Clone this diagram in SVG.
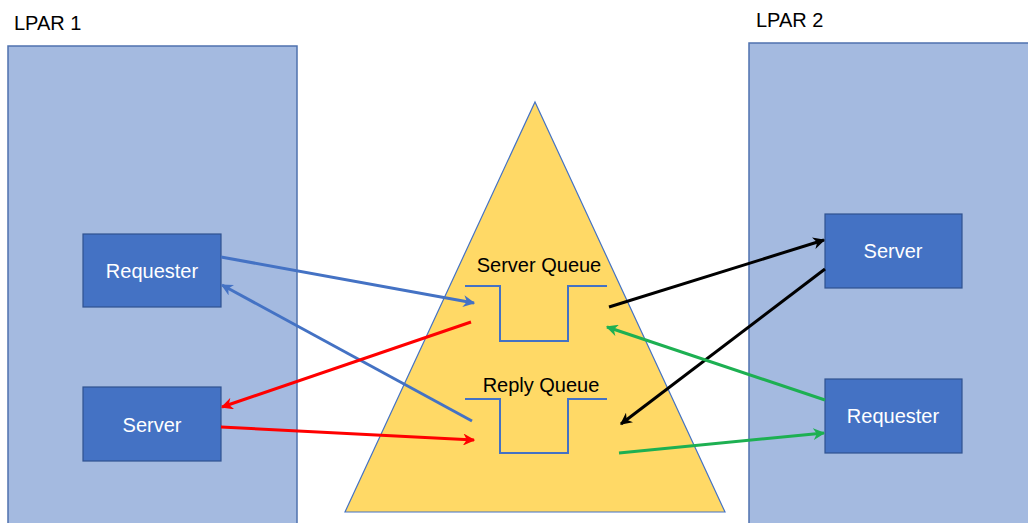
<svg xmlns="http://www.w3.org/2000/svg" width="1028" height="523" viewBox="0 0 1028 523">
<defs>
<style>
.lpar{fill:#A4BAE0;stroke:#4F72AE;stroke-width:1.5}
.box{fill:#4472C4;stroke:#2F528F;stroke-width:1.2}
.wt{font-family:"Liberation Sans",Arial,sans-serif;font-size:20px;fill:#fff;text-anchor:middle}
.bt{font-family:"Liberation Sans",Arial,sans-serif;font-size:20px;fill:#000}
.q{fill:none;stroke:#4472C4;stroke-width:2}
.c{fill:none;stroke-width:3}
</style>
<marker id="mB" viewBox="0 0 10 10" refX="9" refY="5" markerWidth="4" markerHeight="4" orient="auto" markerUnits="strokeWidth"><path d="M0,0 L10,5 L0,10 L3,5 z" fill="#4472C4"/></marker>
<marker id="mR" viewBox="0 0 10 10" refX="9" refY="5" markerWidth="4" markerHeight="4" orient="auto" markerUnits="strokeWidth"><path d="M0,0 L10,5 L0,10 L3,5 z" fill="#FF0000"/></marker>
<marker id="mK" viewBox="0 0 10 10" refX="9" refY="5" markerWidth="4" markerHeight="4" orient="auto" markerUnits="strokeWidth"><path d="M0,0 L10,5 L0,10 L3,5 z" fill="#000"/></marker>
<marker id="mG" viewBox="0 0 10 10" refX="9" refY="5" markerWidth="4" markerHeight="4" orient="auto" markerUnits="strokeWidth"><path d="M0,0 L10,5 L0,10 L3,5 z" fill="#1DB052"/></marker>
</defs>
<rect width="1028" height="523" fill="#fff"/>
<g id="lpar1">
<rect class="lpar" x="8" y="46" width="289" height="490"/>
<text class="bt" x="14" y="30" font-size="20">LPAR 1</text>
</g>
<g id="lpar2">
<rect class="lpar" x="749" y="43" width="290" height="490"/>
<text class="bt" x="756" y="27">LPAR 2</text>
</g>
<g id="cf">
<polygon points="535,102 725,512 345,512" fill="#FFD966" stroke="#4472C4" stroke-width="1.2"/>
</g>
<g id="server-queue">
<polyline class="q" points="465,286 500,286 500,341 568,341 568,286 607,286"/>
<text class="bt" x="539" y="272" text-anchor="middle">Server Queue</text>
</g>
<g id="reply-queue">
<polyline class="q" points="465,399 500,399 500,453 568,453 568,399 607,399"/>
<text class="bt" x="541" y="392" text-anchor="middle">Reply Queue</text>
</g>
<g id="requester1">
<rect class="box" x="83" y="234" width="138" height="73"/>
<text class="wt" x="152" y="278">Requester</text>
</g>
<g id="server1">
<rect class="box" x="83" y="387" width="138" height="74"/>
<text class="wt" x="152" y="432">Server</text>
</g>
<g id="server2">
<rect class="box" x="825" y="214" width="137" height="74"/>
<text class="wt" x="893" y="258">Server</text>
</g>
<g id="requester2">
<rect class="box" x="825" y="379" width="137" height="74"/>
<text class="wt" x="893" y="423">Requester</text>
</g>
<g id="connectors">
<line class="c" x1="221" y1="257" x2="474" y2="303" stroke="#4472C4" marker-end="url(#mB)"/>
<line class="c" x1="472" y1="421" x2="222" y2="285" stroke="#4472C4" marker-end="url(#mB)"/>
<line class="c" x1="471" y1="322" x2="222" y2="407" stroke="#FF0000" marker-end="url(#mR)"/>
<line class="c" x1="221" y1="427" x2="474" y2="440" stroke="#FF0000" marker-end="url(#mR)"/>
<line class="c" x1="609" y1="307" x2="824" y2="240" stroke="#000" marker-end="url(#mK)"/>
<line class="c" x1="825" y1="269" x2="621" y2="424" stroke="#000" marker-end="url(#mK)"/>
<line class="c" x1="825" y1="400" x2="607" y2="327" stroke="#1DB052" marker-end="url(#mG)"/>
<line class="c" x1="619" y1="453" x2="824" y2="433" stroke="#1DB052" marker-end="url(#mG)"/>
</g>
</svg>
